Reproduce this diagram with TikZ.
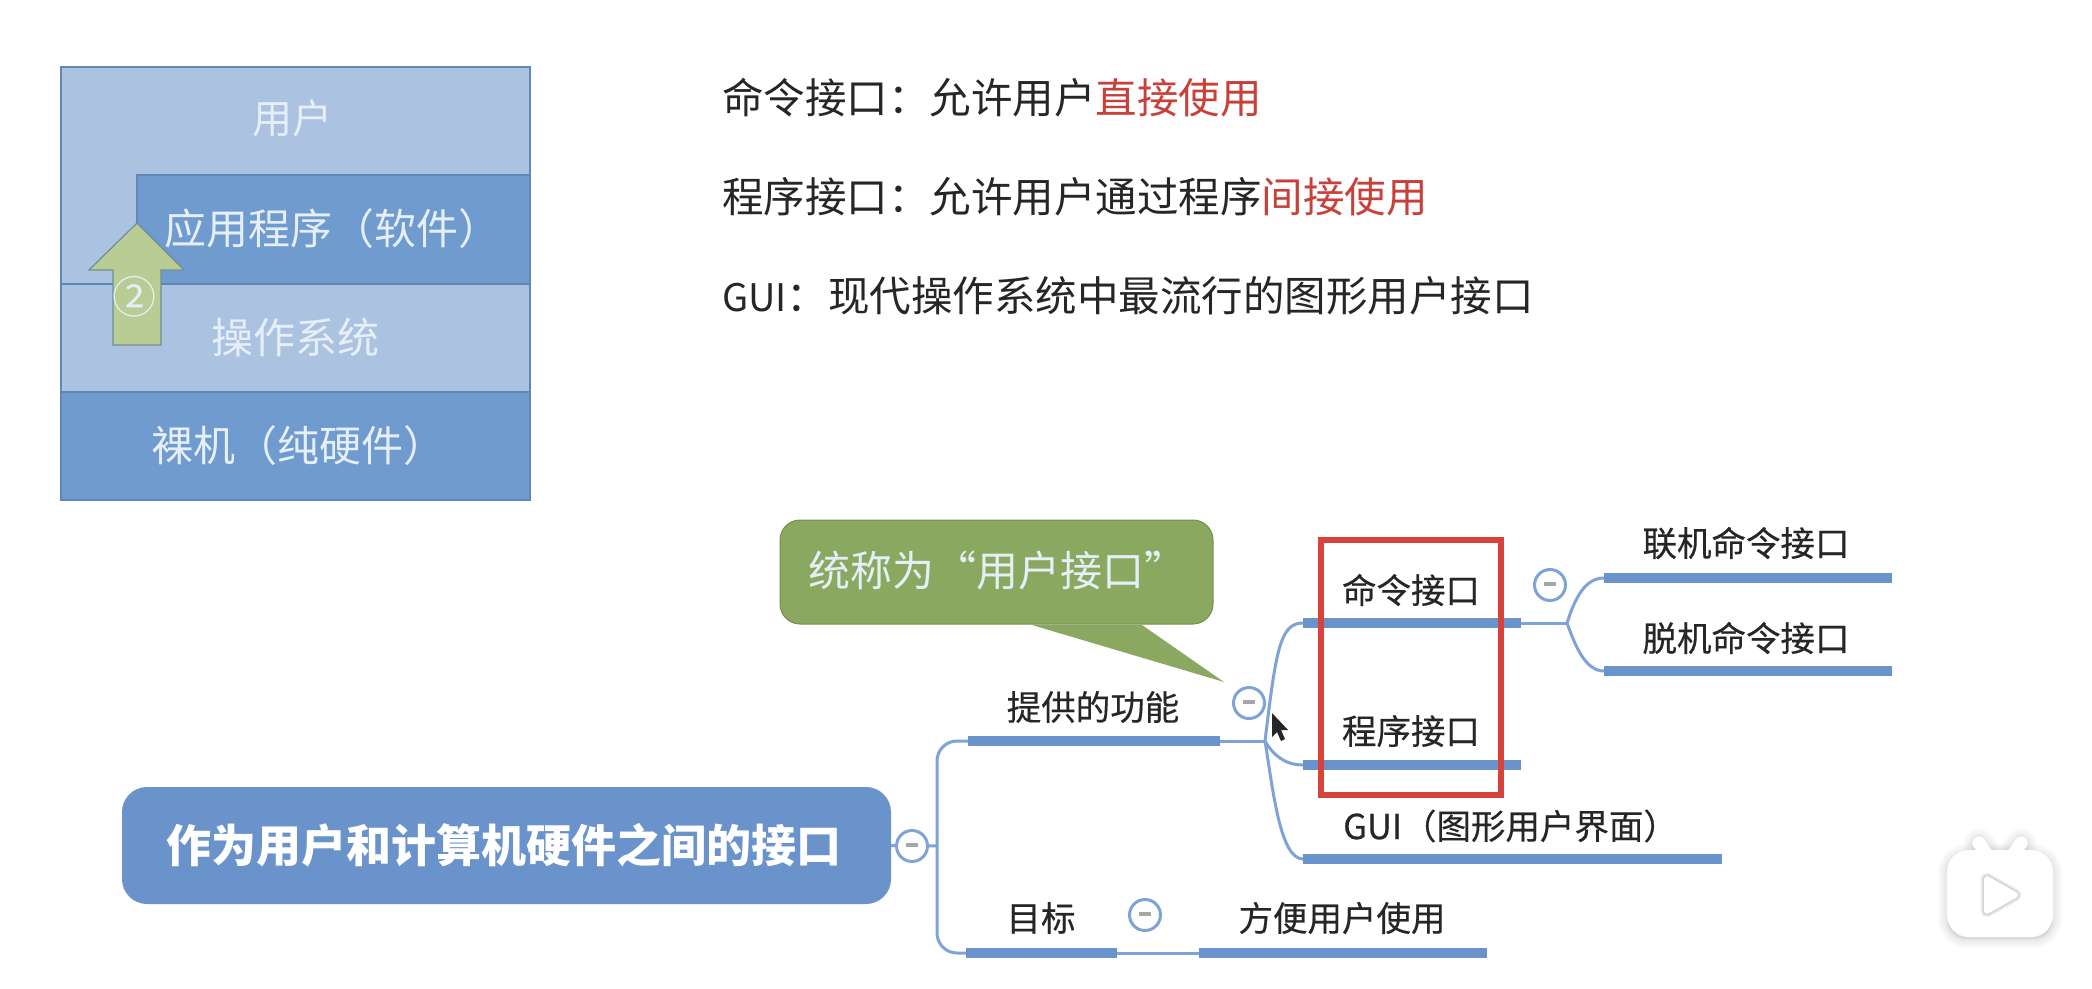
\documentclass[tikz,border=0pt]{standalone}
\usepackage{fontspec}
\setmainfont{Noto Sans CJK SC}
\newfontfamily\mapfont[FakeBold=0.35]{Noto Sans CJK SC}
\usetikzlibrary{calc}
\definecolor{lightlayer}{HTML}{ABC3E0}
\definecolor{darklayer}{HTML}{6F9BCE}
\definecolor{layerline}{HTML}{5F88B8}
\definecolor{arrowgreen}{HTML}{B8CC94}
\definecolor{arrowline}{HTML}{6F8F96}
\definecolor{calloutgreen}{HTML}{8AA85F}
\definecolor{mapblue}{HTML}{6A92CB}
\definecolor{linkblue}{HTML}{7FA3D6}
\definecolor{redbox}{HTML}{D9423A}
\definecolor{redtext}{HTML}{C8403A}
\definecolor{inktext}{HTML}{262626}
\definecolor{palewhite}{HTML}{E6EEF7}
\newcommand{\fs}[1]{\fontsize{#1}{#1}\selectfont}
\tikzset{
  layerlight/.style={draw=layerline,line width=1.2pt,fill=lightlayer},
  layerdark/.style={draw=layerline,line width=1.2pt,fill=darklayer},
  layertext/.style={text=palewhite,inner sep=0pt,font=\fs{42}},
  desc/.style={text=inktext,inner sep=0pt,anchor=west,font=\fs{41.5}},
  maptext/.style={text=inktext,inner sep=0pt,font=\mapfont\fs{34.5}},
  bar/.style={draw=mapblue,line width=9.5pt},
  link/.style={draw=linkblue,line width=3pt},
  foldbtn/.style={circle,draw=linkblue,line width=3pt,fill=white,minimum size=31pt,inner sep=0pt},
  iconshade/.style={draw=black,line join=round,line cap=round,opacity=0.018}
}
\newcommand{\foldmark}{\textcolor{black!35}{\rule[2pt]{12pt}{3.5pt}}}
\begin{document}
\begin{tikzpicture}[x=1pt,y=-1pt]
\useasboundingbox (0,0) rectangle (2092,988);
\fill[white] (0,0) rectangle (2092,988);

% layered stack
\draw[layerlight] (61,67) -- (530,67) -- (530,175) -- (137,175) -- (137,284) -- (61,284) -- cycle;
\draw[layerdark] (137,175) rectangle (530,284);
\draw[layerlight] (61,284) rectangle (530,392);
\draw[layerdark] (61,392) rectangle (530,500);
\node[layertext,font=\fs{40}] (user) at (292,118) {用户};
\node[layertext] (app) at (332,229) {应用程序（软件）};
\node[layertext] (os) at (295,337) {操作系统};
\node[layertext] (hw) at (298,446) {裸机（纯硬件）};
\draw[draw=arrowline,line width=1.2pt,fill=arrowgreen,line join=miter]
  (137,223) -- (184,270) -- (161,270) -- (161,345) -- (113,345) -- (113,270) -- (89,270) -- cycle;
\node[layertext,font=\fs{44}] (step2) at (134,297) {②};

% description lines
\node[desc] (l1) at (722,98) {命令接口：允许用户\textcolor{redtext}{直接使用}};
\node[desc] (l2) at (722,197) {程序接口：允许用户通过程序\textcolor{redtext}{间接使用}};
\node[desc] (l3) at (722,296) {{\fs{38}GUI}：现代操作系统中最流行的图形用户接口};

% callout
\draw[draw=calloutgreen!85!black,line width=1pt,fill=calloutgreen,rounded corners=20pt]
  (780,520) -- (1213,520) -- (1213,624) -- (780,624) -- cycle;
\fill[calloutgreen] (1032,625) -- (1224,682) -- (1142,625) -- cycle;
\node[inner sep=0pt,anchor=west,text=palewhite,font=\fs{42}] (callout) at (808,571) {统称为“用户接口”};

% mind map coordinates
\coordinate (b1a) at (968,741);  \coordinate (b1b) at (1220,741);
\coordinate (j1)  at (1265,741);
\coordinate (b2a) at (1303,623); \coordinate (b2b) at (1521,623);
\coordinate (b3a) at (1303,765); \coordinate (b3b) at (1521,765);
\coordinate (b4a) at (1303,859); \coordinate (b4b) at (1722,859);
\coordinate (j2)  at (1567,623);
\coordinate (b5a) at (1604,578); \coordinate (b5b) at (1892,578);
\coordinate (b6a) at (1604,671); \coordinate (b6b) at (1892,671);
\coordinate (b7a) at (966,953);  \coordinate (b7b) at (1117,953);
\coordinate (b8a) at (1199,953); \coordinate (b8b) at (1487,953);
\coordinate (trunk) at (937,846);

% root
\node[fill=mapblue,rounded corners=25pt,minimum width=769pt,minimum height=117pt,inner sep=0pt,
  text=white,font=\fs{45}\bfseries] (root) at (506.5,845.5) {\hspace*{-5pt}作为用户和计算机硬件之间的接口};

% links
\draw[link] (root.east) -- (trunk);
\draw[link,rounded corners=20pt] (b1a) -- (trunk |- b1a) -- (trunk |- b7a) -- (b7a);
\draw[link] (b1b) -- (j1);
\draw[link] (j1) .. controls (1276,650) and (1280,623) .. (b2a);
\draw[link] (j1) .. controls (1273,755) and (1285,765) .. (b3a);
\draw[link] (j1) .. controls (1273,790) and (1280,859) .. (b4a);
\draw[link] (b2b) -- (j2);
\draw[link] (j2) .. controls (1575,598) and (1585,578) .. (b5a);
\draw[link] (j2) .. controls (1575,645) and (1585,671) .. (b6a);
\draw[link] (b7b) -- (b8a);

% bars
\foreach \a/\b in {b1a/b1b,b2a/b2b,b3a/b3b,b4a/b4b,b5a/b5b,b6a/b6b,b7a/b7b,b8a/b8b}
  \draw[bar] (\a) -- (\b);

% fold buttons
\node[foldbtn] (f0) at (912,846) {\foldmark};
\node[foldbtn] (f1) at (1249,703) {\foldmark};
\node[foldbtn] (f2) at (1550,585) {\foldmark};
\node[foldbtn] (f3) at (1145,915) {\foldmark};

% labels
\node[maptext] (t1) at (1093,707) {提供的功能};
\node[maptext] (t2) at (1411,590) {命令接口};
\node[maptext] (t3) at (1411,731) {程序接口};
\node[maptext,anchor=west] (t4) at (1343,826) {GUI（图形用户界面）};
\node[maptext] (t5) at (1746,543) {联机命令接口};
\node[maptext] (t6) at (1746,638) {脱机命令接口};
\node[maptext] (t7) at (1041,918) {目标};
\node[maptext] (t8) at (1342,918) {方便用户使用};

% red frame
\draw[draw=redbox,line width=5.5pt] (1321,540) rectangle (1501,795);

% mouse cursor
\fill[black!85] (1272,713) -- (1272,737) -- (1277,732) -- (1281,741) -- (1285,739) -- (1281,730) -- (1288,730) -- cycle;

% player badge
\foreach \w in {18,14,10,6,3}{
  \draw[iconshade,line width=\w pt,fill=black,fill opacity=0.01,rounded corners=20pt]
     (1947,853) rectangle (2053,939);
  \draw[iconshade,line width=13pt+\w pt] (1979,844) -- (1992,862);
  \draw[iconshade,line width=13pt+\w pt] (2021,844) -- (2008,862);
}
\draw[white,line width=13pt,line cap=round] (1979,843) -- (1992,862);
\draw[white,line width=13pt,line cap=round] (2021,843) -- (2008,862);
\fill[white,rounded corners=22pt] (1947,850) rectangle (2053,937);
\foreach \w in {7,5,3,1.5}{
  \draw[iconshade,line width=\w pt,rounded corners=6pt,opacity=0.05]
     (1984,874) -- (2021,895) -- (1984,916) -- cycle;
}
\fill[white,rounded corners=6pt] (1984,874) -- (2021,895) -- (1984,916) -- cycle;
\end{tikzpicture}
\end{document}
